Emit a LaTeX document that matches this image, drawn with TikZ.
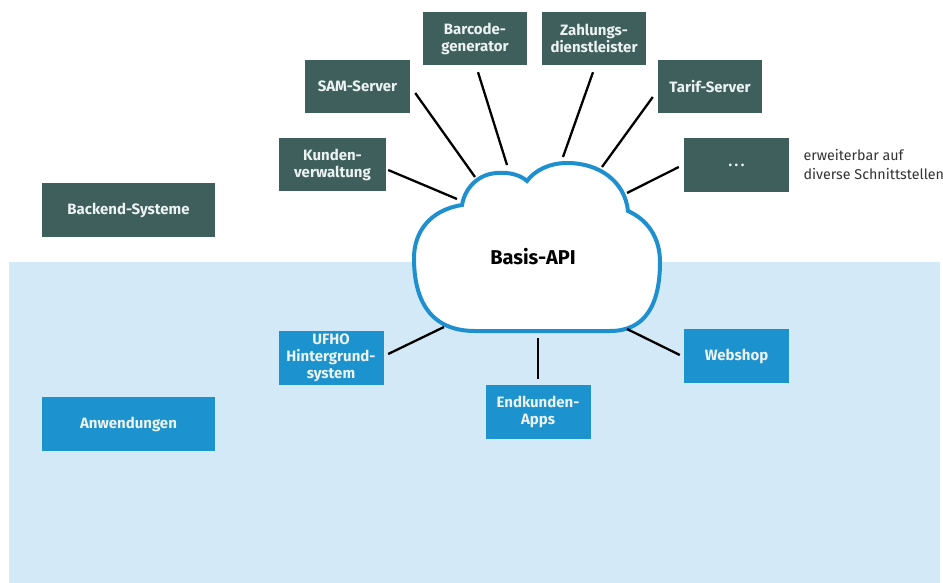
\documentclass[tikz,border=0pt]{standalone}
\usepackage{fontspec}
\setmainfont{Fira Sans}
\definecolor{teal}{RGB}{62,95,92}
\definecolor{boxblue}{RGB}{28,146,206}
\definecolor{bgblue}{RGB}{211,233,247}
\definecolor{cloudblue}{RGB}{30,144,208}
\definecolor{boxtext}{RGB}{236,242,242}
\begin{document}
\begin{tikzpicture}[x=1pt,y=-1pt,
  backbox/.style={fill=teal,text=boxtext,font=\bfseries\fontsize{15}{17}\selectfont,align=center,inner sep=0pt},
  appbox/.style={fill=boxblue,text=boxtext,font=\bfseries\fontsize{15}{17}\selectfont,align=center,inner sep=0pt},
  conn/.style={line width=2.3pt,black}]
\useasboundingbox (0,0) rectangle (943,583);
\fill[white] (0,0) rectangle (943,583);
\fill[bgblue] (9,262) rectangle (940,583);

% cloud
\draw[cloudblue,line width=4pt,fill=white]
  (462,205) .. controls (430,210) and (414,232) .. (414,258)
  .. controls (414,300) and (430,331) .. (475,331)
  -- (610,331)
  .. controls (645,331) and (660,305) .. (660,262)
  .. controls (660,238) and (648,220) .. (628,211)
  .. controls (625,182) and (600,163) .. (567,163)
  .. controls (550,163) and (535,170) .. (527,181)
  .. controls (520,175) and (510,172) .. (497,173)
  .. controls (478,174) and (465,188) .. (462,205) -- cycle;
\node[font=\bfseries\fontsize{20}{24}\selectfont] (api) at (533,257) {Basis-API};

% backend boxes
\node[backbox,minimum width=173pt,minimum height=54pt] (backend) at (128.5,210) {Backend-Systeme};
\node[backbox,minimum width=107pt,minimum height=53pt] (kunden) at (332.5,164.5) {Kunden-\\verwaltung};
\node[backbox,minimum width=105pt,minimum height=53pt] (sam) at (357.5,86.5) {SAM-Server};
\node[backbox,minimum width=104pt,minimum height=53pt] (barcode) at (475,38.5) {Barcode-\\generator};
\node[backbox,minimum width=104pt,minimum height=53pt] (zahl) at (594,38.5) {Zahlungs-\\dienstleister};
\node[backbox,minimum width=104pt,minimum height=53pt] (tarif) at (710,86.5) {Tarif-Server};
\node[backbox,minimum width=105pt,minimum height=54pt] (dots) at (736.5,165) {.\hspace{2.5pt}.\hspace{2.5pt}.};
\node[anchor=west,align=left,text=black!80,font=\fontsize{14.3}{19}\selectfont] (note) at (800,164.5) {erweiterbar auf\\diverse Schnittstellen};

% application boxes
\node[appbox,minimum width=173pt,minimum height=54pt] (anw) at (128.5,424) {Anwendungen};
\node[appbox,minimum width=105pt,minimum height=54pt] (ufho) at (331,358) {UFHO\\Hintergrund-\\system};
\node[appbox,minimum width=105pt,minimum height=54pt] (endk) at (538,412) {Endkunden-\\Apps};
\node[appbox,minimum width=105pt,minimum height=54pt] (web) at (736.5,356) {Webshop};

% cloud-side end points
\coordinate (c1) at (457,199);
\coordinate (c2) at (475,177);
\coordinate (c3) at (507,165);
\coordinate (c4) at (563,157);
\coordinate (c5) at (602,167);
\coordinate (c6) at (627,193);
\coordinate (c7) at (444,327);
\coordinate (c8) at (538,337.5);
\coordinate (c9) at (627,329);

\draw[conn] ([shift={(2,5.5)}]kunden.east) -- (c1);
\draw[conn] ([shift={(5,6.5)}]sam.east) -- (c2);
\draw[conn] ([shift={(3,7)}]barcode.south) -- (c3);
\draw[conn] ([shift={(-1,7)}]zahl.south) -- (c4);
\draw[conn] ([shift={(-5,10.5)}]tarif.west) -- (c5);
\draw[conn] ([shift={(-5,2)}]dots.west) -- (c6);
\draw[conn] ([shift={(4.5,-4)}]ufho.east) -- (c7);
\draw[conn] ([shift={(0,-6)}]endk.north) -- (c8);
\draw[conn] ([shift={(-4,-1)}]web.west) -- (c9);
\end{tikzpicture}
\end{document}
